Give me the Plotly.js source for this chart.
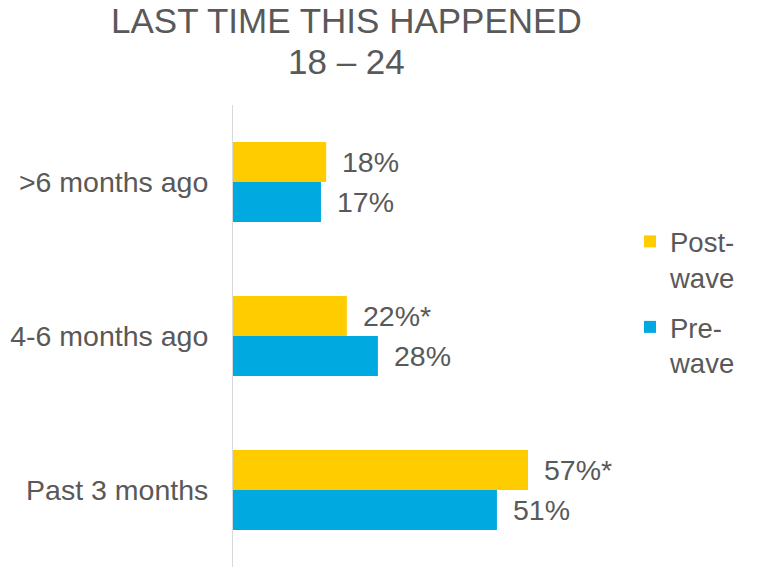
<!DOCTYPE html>
<html>
<head>
<meta charset="utf-8">
<script src="https://cdn.plot.ly/plotly-3.0.1.min.js"></script>
<style>html,body{margin:0;padding:0;background:#fff;}#chart{width:778px;height:567px;}</style>
</head>
<body>
<div id="chart"></div>
<script>
var categories = [">6 months ago", "4-6 months ago", "Past 3 months"];
var postWave = [18, 22, 57];
var preWave = [17, 28, 51];
var postLabels = ["18%", "22%*", "57%*"];
var preLabels = ["17%", "28%", "51%"];
var seriesNames = ["Post-<br>wave", "Pre-<br>wave"];
var titleLine1 = "LAST TIME THIS HAPPENED";
var titleLine2 = "18 – 24";

var FONT = "Liberation Sans, Arial, sans-serif";
var TXT = "#595959";

var traces = [
  {type: "bar", orientation: "h", name: seriesNames[0], legendgroup: "post", y: categories, x: postWave,
   marker: {color: "#FFCC00"}, hoverinfo: "none"},
  {type: "bar", orientation: "h", name: seriesNames[1], legendgroup: "pre", y: categories, x: preWave,
   marker: {color: "#00A9E0"}, hoverinfo: "none"}
];

var annotations = [];
function addLabels(vals, labels, shift) {
  for (var i = 0; i < categories.length; i++) {
    annotations.push({x: vals[i], y: categories[i], xref: "x", yref: "y", text: labels[i],
      showarrow: false, xanchor: "left", yanchor: "middle", xshift: 14, yshift: shift,
      font: {family: FONT, size: 28.5, color: TXT}});
  }
}
addLabels(postWave, postLabels, 20);
addLabels(preWave, preLabels, -20);

annotations.push({xref: "paper", yref: "paper", x: (346 - 233) / 414, y: (567 - 21) / 462,
  text: titleLine1, showarrow: false, xanchor: "center", yanchor: "middle",
  font: {family: FONT, size: 35, color: TXT}});
annotations.push({xref: "paper", yref: "paper", x: (346 - 233) / 414, y: (567 - 62) / 462,
  text: titleLine2, showarrow: false, xanchor: "center", yanchor: "middle",
  font: {family: FONT, size: 35, color: TXT}});

var layout = {
  width: 778, height: 567,
  margin: {l: 233, r: 131, t: 105, b: 0, pad: 0},
  paper_bgcolor: "#ffffff", plot_bgcolor: "#ffffff",
  barmode: "group", bargap: 0.48, bargroupgap: 0,
  showlegend: true,
  legend: {x: (630 - 233) / 414, xanchor: "left", y: (567 - 217) / 462, yanchor: "top",
    valign: "top", font: {family: FONT, size: 27.5, color: TXT}, tracegroupgap: 11,
    bgcolor: "rgba(0,0,0,0)"},
  xaxis: {range: [0, 80], visible: false, fixedrange: true},
  yaxis: {type: "category", autorange: "reversed", showline: true, linecolor: "#D9D9D9",
    linewidth: 1, showgrid: false, zeroline: false, ticks: "", ticklabelstandoff: 18,
    tickfont: {family: FONT, size: 28.5, color: TXT}, fixedrange: true},
  annotations: annotations
};

Plotly.newPlot("chart", traces, layout, {staticPlot: true, displayModeBar: false});
</script>
</body>
</html>
